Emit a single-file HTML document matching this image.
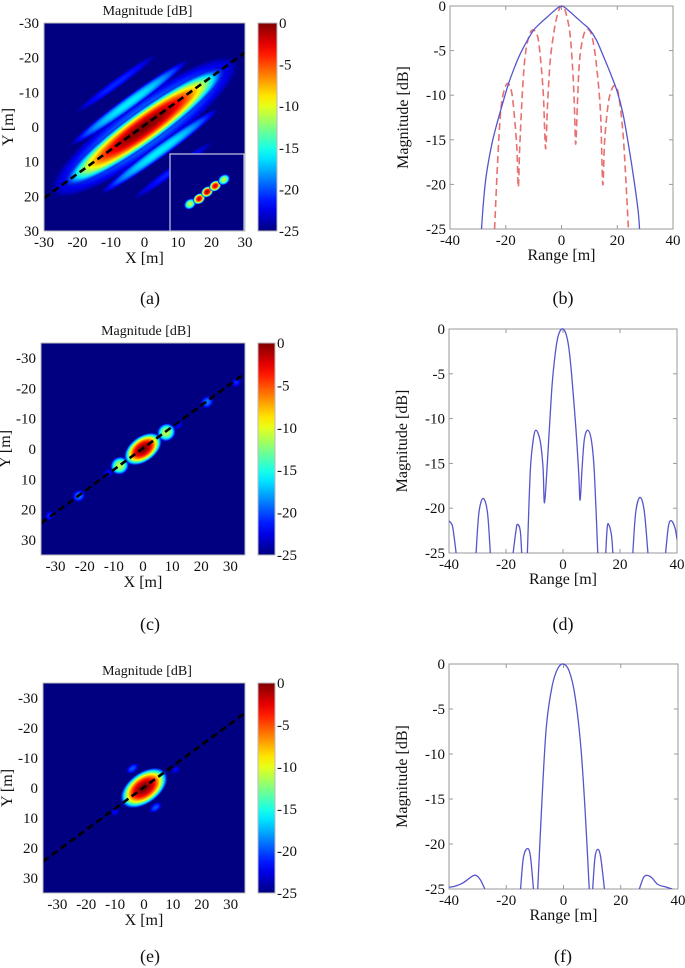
<!DOCTYPE html>
<html><head><meta charset="utf-8">
<style>
html,body{margin:0;padding:0;background:#fff;}
svg{display:block;font-family:"Liberation Serif",serif;}
</style></head>
<body>
<svg id="fig" width="685" height="968" viewBox="0 0 685 968" xmlns="http://www.w3.org/2000/svg"></svg>
<script>
// ---------- DATA ----------
const lobesA_x = [0, -4.5, 4.5, -8.5, 8.5, 0];
const lobesA_y = [0, -7, 7, -12.5, 12.5, 0];
const lobesA_peak = [-17, -16, -16, -21, -21, 0];
const lobesA_a = [35, 22, 22, 15, 15, 30];
const lobesA_b = [8, 2, 2, 1.4, 1.4, 5];
const insetX = [13.6, 16.3, 18.7, 21.1, 23.7];
const insetY = [22.2, 20.7, 18.7, 17.0, 15.2];
const insetPeak = [-11, -2, -1, -2, -11];
const lobesC_x = [0, -8, 8, 22, -22, 12, -12, 32, -32];
const lobesC_y = [0, 5.5, -5.5, -15.5, 15.5, -8, 8, -22, 22];
const lobesC_peak = [0, -11, -11, -19, -19, -22, -22, -21, -21];
const lobesC_a = [7.5, 3.4, 3.4, 2.4, 2.4, 1.8, 1.8, 1.8, 1.8];
const lobesC_b = [4.3, 3, 3, 2, 2, 1.5, 1.5, 1.5, 1.5];
const lobesE_x = [0, -4, 4, -10, 11];
const lobesE_y = [0, -6.5, 6.5, 8, -6];
const lobesE_peak = [0, -20, -20, -22, -22];
const lobesE_a = [9.5, 2.5, 2.5, 1.6, 1.6];
const lobesE_b = [5.3, 1.4, 1.4, 1.2, 1.2];
const cbTicks = [0, -5, -10, -15, -20, -25];
const bBlueX = [-28.7,-28,-27,-25,-23,-21,-19,-17,-15,-12.5,-10,-7.5,-5,-2.5,0,2.5,5,7.5,10,12.5,15,17.5,20,22,24,26,27.5,28];
const bBlueY = [-25,-22,-19,-15.5,-13,-10.8,-8.7,-7,-5.5,-4,-2.7,-1.9,-1.2,-0.5,0,-0.5,-1.2,-1.9,-2.6,-3.8,-5.6,-7.5,-9.6,-12,-15.5,-19.5,-23,-25];
const bRedX = [-24,-23,-22,-21,-19.5,-18,-17,-16,-15.5,-15,-14,-13,-11.5,-10,-8.5,-7.5,-6.5,-5.7,-5,-4,-2.5,-1,0.3,1.5,3,4,4.6,5.1,5.7,6.5,8,9.5,11,12.5,14,14.8,15.5,17,19,20.5,22,23,24];
const bRedY = [-25,-18,-12.5,-10,-8.7,-9.5,-12,-16,-20.3,-16,-9.5,-5.5,-3.2,-2.7,-3.5,-6,-10,-16,-11,-6,-2.5,-0.5,0,-0.7,-3,-7,-11,-15.5,-11,-6,-3.2,-2.6,-3.5,-6.5,-12,-20,-15,-10.5,-8.9,-10,-14,-19,-25];
const dSegX = [[-40,-39,-38.5,-37.5],[-30.5,-29.5,-28,-26.5,-25.5],[-17.5,-16.5,-16,-15,-14.5],[-12.5,-11.5,-10.5,-9.5,-8,-7,-6.5,-5.5,-4,-3,-2,-1,0,1,2,3,4.5,5.5,6,6.7,7.5,8.7,10,11,12.2],[15,15.5,16,17,17.5],[24.5,25.5,27,28.5,29.8],[36,37,38,39.3,40]];
const dSegY = [[-21.4,-21.8,-22.5,-25],[-25,-20.5,-18.9,-20.5,-25],[-25,-22.5,-21.8,-22.5,-25],[-25,-16,-12.5,-11.3,-12.5,-15.5,-19.4,-15,-7,-3.5,-1.2,-0.2,0,-0.5,-2,-5,-11,-16,-19.1,-15.5,-12.3,-11.3,-12.5,-16,-25],[-25,-22.2,-21.8,-23,-25],[-25,-20.5,-18.8,-20.3,-25],[-25,-22,-21.4,-22.2,-23.5]];
const fSegX = [[-40,-38,-35,-32,-30.5,-29,-27.5],[-15,-14,-12.5,-11.5,-10.5],[-9,-7.5,-6,-4,-2,0,2,4,6,7.5,9],[10.2,11,12,13,14.3],[26.5,28,29.5,31,33,36,38]];
const fSegY = [[-24.8,-24.7,-24.3,-23.6,-23.5,-24,-25],[-25,-21.5,-20.5,-21.5,-25],[-25,-15,-7,-2.5,-0.5,0,-0.8,-3.5,-9,-16,-25],[-25,-21.5,-20.6,-21.5,-25],[-25,-23.7,-23.5,-23.8,-24.5,-24.8,-25]];
const xTicks = [-40,-20,0,20,40];
const yTicks = [0,-5,-10,-15,-20,-25];

// ---------- HELPERS ----------
const NS = "http://www.w3.org/2000/svg";
const svg = document.getElementById('fig');
const defs = document.createElementNS(NS,'defs'); svg.appendChild(defs);
function mk(tag, attrs, parent){ const e=document.createElementNS(NS,tag); for(const k in attrs) e.setAttribute(k,attrs[k]); (parent||svg).appendChild(e); return e; }
function jet(db){ let t=Math.max(0,Math.min(1,(db+25)/25)); const c=v=>Math.round(255*Math.max(0,Math.min(1,v)));
  return `rgb(${c(1.5-Math.abs(4*t-3))},${c(1.5-Math.abs(4*t-2))},${c(1.5-Math.abs(4*t-1))})`; }
function text(x,y,s,anchor,size,parent,name){ const t=mk('text',{x:x,y:y,'text-anchor':anchor||'middle','font-size':size||14,fill:'#111'},parent); t.textContent=s;
  
   return t; }
let gid=0;

function heatmap(id, box, range, xs, ys, peaks, as, bs, ticks, linePts, inset){
  const g = mk('g',{});
  
  
  const sx = v => box.x0 + (v-range[0])/(range[1]-range[0])*(box.x1-box.x0);
  const sy = v => box.y0 + (v-range[0])/(range[1]-range[0])*(box.y1-box.y0);
  const kx = (box.x1-box.x0)/(range[1]-range[0]), ky=(box.y1-box.y0)/(range[1]-range[0]);
  const cp = mk('clipPath',{id:'clip'+id},defs);
  mk('rect',{x:box.x0,y:box.y0,width:box.x1-box.x0,height:box.y1-box.y0},cp);
  const inner = mk('g',{'clip-path':`url(#clip${id})`},g);
  mk('rect',{x:box.x0,y:box.y0,width:box.x1-box.x0,height:box.y1-box.y0,fill:jet(-25)},inner);
  const ang = Math.atan2(sy(linePts[3])-sy(linePts[1]), sx(linePts[2])-sx(linePts[0]))*180/Math.PI;
  function lobe(x,y,pk,a,b,parent){
    const gi='rg'+(gid++);
    const rg = mk('radialGradient',{id:gi},defs);
    for(let i=0;i<=12;i++){ const t=i/12; const db=pk-(pk+25)*Math.pow(t,2.4);
      mk('stop',{offset:t,'stop-color':jet(db),'stop-opacity':i==12?0:1},rg); }
    const el = mk('ellipse',{cx:sx(x),cy:sy(y),rx:a*kx,ry:b*ky,fill:`url(#${gi})`,
      transform:`rotate(${ang} ${sx(x)} ${sy(y)})`},parent);
    
    
  }
  const order = peaks.map((p,i)=>i).sort((i,j)=>peaks[i]-peaks[j]);
  order.forEach(i=>lobe(xs[i],ys[i],peaks[i],as[i],bs[i],inner));
  const ln = mk('line',{x1:sx(linePts[0]),y1:sy(linePts[1]),x2:sx(linePts[2]),y2:sy(linePts[3]),stroke:'#000','stroke-width':2.6,'stroke-dasharray':'7,4'},inner);
  
  
  if(inset){
    const r = mk('rect',{x:inset.x0,y:inset.y0,width:inset.x1-inset.x0,height:inset.y1-inset.y0,fill:jet(-25),stroke:'#c8c8e0','stroke-width':1.2},inner);
    
    
    inset.xs.forEach((x,i)=>lobe(x,inset.ys[i],inset.peaks[i],2.0,1.5,inner));
  }
  mk('rect',{x:box.x0,y:box.y0,width:box.x1-box.x0,height:box.y1-box.y0,fill:'none',stroke:'#bbb','stroke-width':1},g);
  ticks.forEach(t=>{
    text(box.x0-5, sy(t)+5, String(t), 'end', 15, g, 'y-tick-label');
    text(sx(t), box.y1+16, String(t), 'middle', 15, g, 'x-tick-label');
  });
  text((box.x0+box.x1)/2, box.y1+32, 'X [m]', 'middle', 16, g, 'x-axis-title');
  const yt = text(0,0,'Y [m]','middle',16,g,'y-axis-title');
  yt.setAttribute('transform',`translate(${box.x0-31},${(box.y0+box.y1)/2}) rotate(-90)`);
  text((box.x0+box.x1)/2+3, box.y0-8, 'Magnitude [dB]', 'middle', 14, g, 'colorbar-title');
  const cg='cb'+id; const lg = mk('linearGradient',{id:cg,x1:0,y1:1,x2:0,y2:0},defs);
  for(let i=0;i<=20;i++) mk('stop',{offset:i/20,'stop-color':jet(-25+25*i/20)},lg);
  const cb = mk('rect',{x:box.cx0,y:box.y0,width:box.cx1-box.cx0,height:box.y1-box.y0,fill:`url(#${cg})`,stroke:'#bbb','stroke-width':1},g);
  
  
  cbTicks.forEach(t=>{ const y=box.y0+(-t/25)*(box.y1-box.y0);
    text(box.cx1+2, y+5, String(t), 'start', 15, g, 'colorbar-tick'); });
}

function smoothPath(pts){
  let d='M'+pts[0][0]+','+pts[0][1];
  for(let i=0;i<pts.length-1;i++){
    const p0=pts[Math.max(0,i-1)],p1=pts[i],p2=pts[i+1],p3=pts[Math.min(pts.length-1,i+2)];
    const c1=[p1[0]+(p2[0]-p0[0])/6,p1[1]+(p2[1]-p0[1])/6], c2=[p2[0]-(p3[0]-p1[0])/6,p2[1]-(p3[1]-p1[1])/6];
    d+=` C${c1[0]},${c1[1]} ${c2[0]},${c2[1]} ${p2[0]},${p2[1]}`;
  }
  return d;
}

function lineplot(id, box){
  const g = mk('g',{});
  
  
  const sx=v=>box.x0+(v+40)/80*(box.x1-box.x0);
  const sy=v=>box.y0+(-v)/25*(box.y1-box.y0);
  mk('rect',{x:box.x0,y:box.y0,width:box.x1-box.x0,height:box.y1-box.y0,fill:'#fff',stroke:'#999','stroke-width':1},g);
  xTicks.forEach(t=>{ mk('line',{x1:sx(t),x2:sx(t),y1:box.y1,y2:box.y1-4,stroke:'#999'},g); mk('line',{x1:sx(t),x2:sx(t),y1:box.y0,y2:box.y0+4,stroke:'#999'},g);
    text(sx(t), box.y1+16, String(t), 'middle', 15, g, 'x-tick-label'); });
  yTicks.forEach(t=>{ mk('line',{x1:box.x0,x2:box.x0+4,y1:sy(t),y2:sy(t),stroke:'#999'},g); mk('line',{x1:box.x1,x2:box.x1-4,y1:sy(t),y2:sy(t),stroke:'#999'},g);
    text(box.x0-4, sy(t)+5, String(t), 'end', 15, g, 'y-tick-label'); });
  text((box.x0+box.x1)/2, box.y1+31, 'Range [m]', 'middle', 16, g, 'x-axis-title');
  const yt=text(0,0,'Magnitude [dB]','middle',16,g,'y-axis-title');
  yt.setAttribute('transform',`translate(${box.x0-42},${(box.y0+box.y1)/2}) rotate(-90)`);
  const cp = mk('clipPath',{id:'lc'+id},defs);
  mk('rect',{x:box.x0,y:box.y0-2,width:box.x1-box.x0,height:box.y1-box.y0+2},cp);
  const ig = mk('g',{'clip-path':`url(#lc${id})`},g);
  return {add:(xs,ys,col,dsh,name)=>{
    const pts = xs.map((x,i)=>[sx(x),sy(ys[i])]);
    const p = mk('path',{d:smoothPath(pts),fill:'none',stroke:col,'stroke-width':dsh?1.6:1.3,'stroke-dasharray':dsh||'none','stroke-linejoin':'round'},ig);
    
    
  }};
}

// ---------- PANELS ----------
heatmap('a',{x0:44,x1:245,y0:23,y1:231,cx0:258,cx1:277},[-30,30],lobesA_x,lobesA_y,lobesA_peak,lobesA_a,lobesA_b,[-30,-20,-10,0,10,20,30],[-30,20.5,30,-21.5],
  {x0:170,x1:244,y0:154,y1:231,xs:insetX,ys:insetY,peaks:insetPeak});
heatmap('c',{x0:41,x1:245,y0:343,y1:555,cx0:258,cx1:275},[-35,35],lobesC_x,lobesC_y,lobesC_peak,lobesC_a,lobesC_b,[-30,-20,-10,0,10,20,30],[-35,24.5,35,-25]);
heatmap('e',{x0:43,x1:245,y0:683,y1:893,cx0:258,cx1:275},[-35,35],lobesE_x,lobesE_y,lobesE_peak,lobesE_a,lobesE_b,[-30,-20,-10,0,10,20,30],[-35,24.5,35,-25]);

const pb = lineplot('b',{x0:450,x1:673,y0:6,y1:229});
pb.add(bRedX,bRedY,'#e87070','7,4','series-single-look');
pb.add(bBlueX,bBlueY,'#5555cc',null,'series-envelope');
const pd = lineplot('d',{x0:449,x1:677,y0:329,y1:553});
dSegX.forEach((xs,i)=>pd.add(xs,dSegY[i],'#5555cc',null,'series-range-profile'));
const pf = lineplot('f',{x0:449,x1:678,y0:664,y1:889});
fSegX.forEach((xs,i)=>pf.add(xs,fSegY[i],'#5555cc',null,'series-range-profile'));

[['(a)',150,304],['(b)',563,304],['(c)',150,630],['(d)',563,630],['(e)',150,962],['(f)',563,962]].forEach(c=>{
  text(c[1],c[2],c[0],'middle',18,svg,'caption-'+c[0].replace(/[()]/g,''));
});
</script>
</body></html>
